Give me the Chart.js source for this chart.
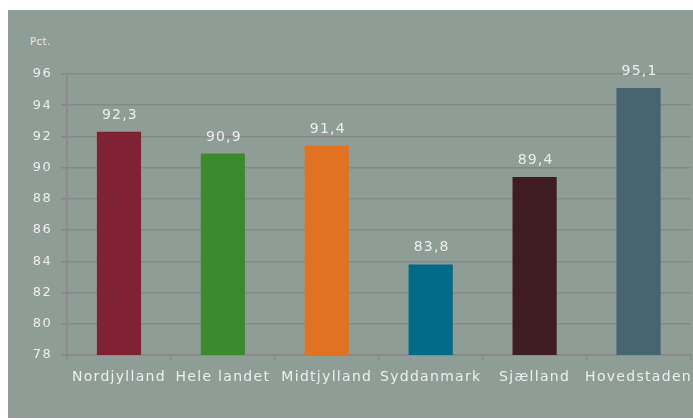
<!DOCTYPE html>
<html>
<head>
<meta charset="utf-8">
<script src="https://cdn.jsdelivr.net/npm/chart.js@4/dist/chart.umd.min.js"></script>
<style>
html, body { margin: 0; padding: 0; background: #fff; }
#wrap { position: absolute; left: 8px; top: 10px; width: 685px; height: 408px; background: #8e9e96; }
#unit { position: absolute; left: 22px; top: 26px; font: 10px "DejaVu Sans"; color: #e8e8e8; letter-spacing: 0.5px; }
#bar_chart { position: absolute; left: 0; top: 0; }
</style>
</head>
<body>
<div id="wrap">
  <div id="unit">Pct.</div>
  <canvas id="bar_chart" width="685" height="408"></canvas>
</div>
<script>
// data
var regions = ['Nordjylland', 'Hele landet', 'Midtjylland', 'Syddanmark', 'Sjælland', 'Hovedstaden'];
var values = [92.3, 90.9, 91.4, 83.8, 89.4, 95.1];
var barColors = ['#7f2234', '#3c8a2e', '#e17222', '#006a88', '#3e1c22', '#466571'];
var yMin = 78, yMax = 96, yStep = 2;

var textColor = '#eeeeee';
var gridColor = '#878787';

// labels above the bars, placed from the bar elements
var valueLabels = {
    id: 'valueLabels',
    afterDatasetsDraw: function(chart) {
        var ctx = chart.ctx;
        ctx.save();
        ctx.letterSpacing = '1.2px';
        ctx.font = '14px "DejaVu Sans"';
        ctx.fillStyle = textColor;
        ctx.textAlign = 'center';
        ctx.textBaseline = 'alphabetic';
        chart.getDatasetMeta(0).data.forEach(function(bar, i) {
            ctx.fillText(values[i].toFixed(1).replace('.', ','), bar.x + 1, bar.y - 13);
        });
        ctx.restore();
    }
};

var spacing = {
    id: 'spacing',
    beforeDraw: function(chart) { chart.ctx.letterSpacing = '1.3px'; }
};

var barData = {
    labels: regions,
    datasets: [{
        data: values,
        backgroundColor: barColors,
        borderWidth: 0,
        categoryPercentage: 1,
        barPercentage: 0.425
    }]
};

var barOptions = {
    responsive: false,
    animation: false,
    layout: { padding: { top: 64, right: 2, bottom: 18, left: 0 } },
    plugins: { legend: { display: false }, tooltip: { enabled: false } },
    scales: {
        x: {
            afterFit: function(s) { s.height = 45; },
            grid: { drawOnChartArea: false, color: gridColor, lineWidth: 1.5, tickLength: 6 },
            border: { color: gridColor, width: 1.5 },
            ticks: { color: textColor, font: { family: 'DejaVu Sans', size: 14 }, padding: 8, autoSkip: false, maxRotation: 0 }
        },
        y: {
            min: yMin,
            max: yMax,
            afterFit: function(s) { s.width = 59; },
            grid: { color: gridColor, lineWidth: 1.5, tickLength: 6 },
            border: { color: gridColor, width: 1.5 },
            ticks: { stepSize: yStep, color: textColor, font: { family: 'DejaVu Sans', size: 13 }, padding: 9 }
        }
    }
};

var ctx = document.getElementById('bar_chart').getContext('2d');
new Chart(ctx, { type: 'bar', data: barData, options: barOptions, plugins: [spacing, valueLabels] });
</script>
</body>
</html>
